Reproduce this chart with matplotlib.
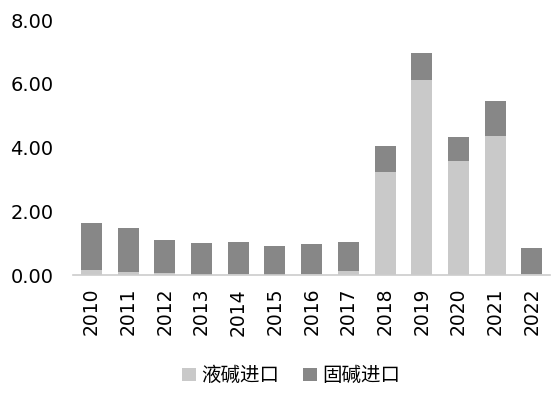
import matplotlib
matplotlib.use("Agg")
import matplotlib.pyplot as plt
import numpy as np

plt.rcParams['font.family'] = ['DejaVu Sans', 'Noto Sans CJK SC']

years = ['2010', '2011', '2012', '2013', '2014', '2015', '2016', '2017',
         '2018', '2019', '2020', '2021', '2022']
liquid = [0.17, 0.12, 0.06, 0.02, 0.05, 0.02, 0.05, 0.15, 3.24, 6.12, 3.57, 4.36, 0.04]
total = [1.64, 1.49, 1.12, 1.02, 1.05, 0.93, 0.99, 1.05, 4.07, 6.97, 4.33, 5.46, 0.87]
solid = [t - l for t, l in zip(total, liquid)]
series_names = ['液碱进口', '固碱进口']
yticks = [0, 2, 4, 6, 8]

fig = plt.figure(figsize=(5.58, 3.94), dpi=100)
ax = fig.add_axes([0.131, 0.301, 0.855, 0.648])
x = np.arange(len(years))
w = 0.57
ax.bar(x, liquid, w, color='#c9c9c9', label=series_names[0])
ax.bar(x, solid, w, bottom=liquid, color='#878787', label=series_names[1])

ax.set_xlim(-0.5, len(years) - 0.5)
ax.set_ylim(0, 8)
ax.set_yticks(yticks)
ax.set_yticklabels([f'{v:.2f}' for v in yticks], fontsize=14)
ax.set_xticks(x)
ax.set_xticklabels(years, rotation=90, fontsize=13.5)
ax.tick_params(axis='y', length=0, pad=14)
ax.tick_params(axis='x', length=0, pad=9)
for s in ['top', 'right', 'left']:
    ax.spines[s].set_visible(False)
ax.spines['bottom'].set_color('#cccccc')
ax.spines['bottom'].set_linewidth(1.2)

fig.legend(loc='center', bbox_to_anchor=(0.522, 0.046), ncol=2, frameon=False,
           prop={'family': ['Noto Sans CJK SC'], 'size': 14},
           handlelength=0.7, handleheight=0.7, handletextpad=0.3, columnspacing=1.2)

fig.savefig('out.png', dpi=100)
